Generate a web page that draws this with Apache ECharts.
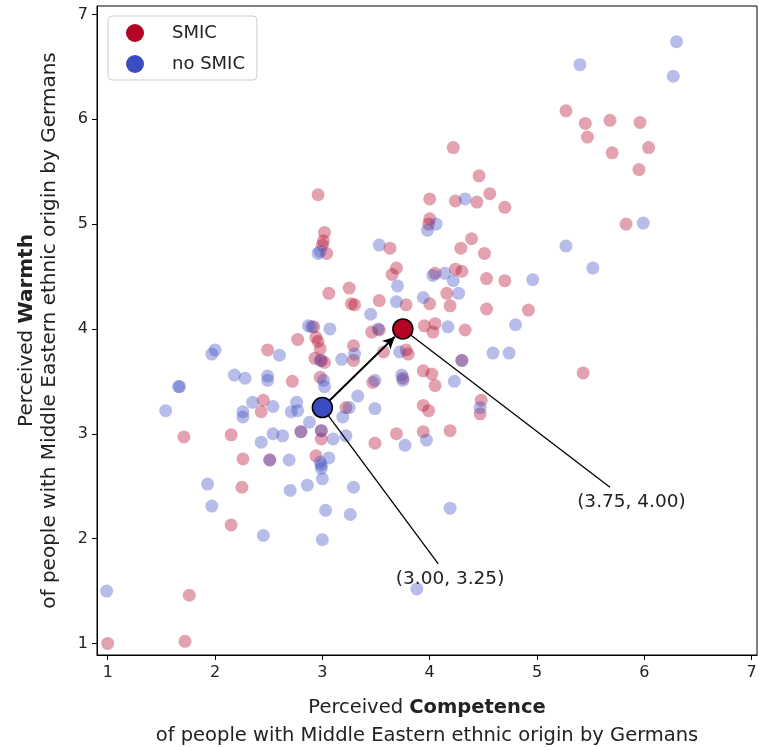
<html>
<head>
    <meta charset="utf-8" />
    <script src="https://cdn.jsdelivr.net/npm/echarts/dist/echarts.min.js"></script>
</head>
<body style="margin:0">
    <div id="main" style="width:759px;height:747px;"></div>
    <script>
        // competence (x), warmth (y)
        var smic = [
            [1.00,1.00],[1.72,1.02],[1.76,1.46],[1.71,2.97],[2.15,2.99],[2.15,2.13],[2.25,2.49],[2.26,2.76],
            [2.51,2.75],[2.45,3.32],[2.43,3.21],[2.49,3.80],[2.72,3.50],[2.77,3.90],[2.96,5.28],[3.02,4.92],
            [3.01,4.84],[3.00,4.80],[3.04,4.72],[3.06,4.34],[2.92,4.02],[2.94,3.92],[2.96,3.88],[2.98,3.81],
            [2.93,3.72],[3.02,3.68],[2.98,3.54],[2.80,3.02],[2.99,3.03],[2.99,2.95],[2.94,2.79],[3.25,4.39],
            [3.27,4.24],[3.30,4.23],[3.29,3.84],[3.29,3.70],[3.22,3.25],[3.46,3.97],[3.53,3.99],[3.53,4.27],
            [3.57,3.78],[3.47,3.49],[3.49,2.91],[3.63,4.77],[3.69,4.58],[3.65,4.52],[3.78,4.23],[3.78,3.80],
            [3.80,3.76],[3.75,3.53],[3.69,3.00],[3.94,3.60],[4.02,3.57],[4.05,3.46],[3.94,3.27],[3.99,3.22],
            [3.94,3.02],[4.19,3.03],[4.00,5.24],[4.00,5.05],[3.99,5.00],[4.22,5.73],[4.24,5.22],[4.44,5.21],
            [4.46,5.46],[4.56,5.29],[4.70,5.16],[4.39,4.86],[4.29,4.77],[4.51,4.72],[4.05,4.53],[4.24,4.57],
            [4.30,4.55],[4.53,4.48],[4.70,4.46],[4.16,4.34],[4.19,4.22],[4.00,4.24],[4.53,4.19],[3.95,4.03],
            [4.05,4.05],[4.03,3.97],[4.33,3.99],[4.30,3.70],[4.48,3.32],[4.47,3.19],[4.92,4.18],[5.27,6.08],
            [5.45,5.96],[5.68,5.99],[5.96,5.97],[5.47,5.83],[6.04,5.73],[5.70,5.68],[5.95,5.52],[5.83,5.00],
            [5.43,3.58],[2.99,3.70]
        ];
        var noSmic = [
            [0.99,1.50],[1.54,3.22],[1.66,3.45],[1.67,3.45],[1.93,2.52],[1.97,2.31],[1.97,3.76],[2.00,3.80],
            [2.18,3.56],[2.28,3.53],[2.35,3.30],[2.26,3.21],[2.26,3.16],[2.43,2.92],[2.45,2.03],[2.49,3.55],
            [2.49,3.51],[2.51,2.75],[2.54,3.26],[2.54,3.00],[2.60,3.75],[2.63,2.98],[2.69,2.75],[2.70,2.46],
            [2.71,3.21],[2.76,3.30],[2.77,3.22],[2.80,3.02],[2.86,2.51],[2.87,4.03],[2.90,4.02],[2.88,3.11],
            [2.96,4.72],[2.98,4.74],[2.98,3.70],[3.01,3.51],[3.02,3.45],[2.98,2.73],[2.99,2.70],[2.99,2.67],
            [3.00,2.57],[3.00,1.99],[3.03,2.27],[3.06,2.77],[3.07,4.00],[3.10,2.95],[3.19,3.16],[3.18,3.71],
            [3.22,2.98],[3.25,3.25],[3.29,2.49],[3.26,2.23],[3.30,3.76],[3.33,3.36],[3.45,4.14],[3.49,3.51],
            [3.49,3.24],[3.52,4.00],[3.53,4.80],[3.69,4.26],[3.70,4.41],[3.72,3.78],[3.74,3.56],[3.75,3.51],
            [3.77,2.89],[3.88,1.52],[3.94,4.30],[3.97,2.94],[3.98,4.94],[4.06,5.00],[4.03,4.51],[4.14,4.53],
            [4.22,4.46],[4.27,4.34],[4.17,4.02],[4.23,3.50],[4.30,3.70],[4.33,5.24],[4.19,2.29],[4.47,3.25],
            [4.59,3.77],[4.74,3.77],[4.80,4.04],[4.96,4.47],[5.27,4.79],[5.52,4.58],[5.40,6.52],[6.30,6.74],
            [6.27,6.41],[5.99,5.01],[2.99,3.03]
        ];
        var meanSmic = [3.75, 4.00];
        var meanNoSmic = [3.00, 3.25];
        var ticks = [1, 2, 3, 4, 5, 6, 7];
        // where the annotation texts sit (data units)
        var textSmic = [5.88, 2.35], lineSmic = [5.68, 2.49];
        var textNoSmic = [4.19, 1.61], lineNoSmic = [4.08, 1.76];

        var red = '#b40426', blue = '#3b4cc0';
        var font = 'DejaVu Sans';

        function fmt(m) { return '(' + m[0].toFixed(2) + ', ' + m[1].toFixed(2) + ')'; }
        // stop the arrow at the edge of the red marker
        var tip = [meanNoSmic[0] + 0.9 * (meanSmic[0] - meanNoSmic[0]),
                   meanNoSmic[1] + 0.9 * (meanSmic[1] - meanNoSmic[1])];

        var axisName = function (word) {
            return '{n|Perceived }{b|' + word + '}\n{n|of people with Middle Eastern ethnic origin by Germans}';
        };
        function nameRich(size, lh) {
            return {
                n: { fontFamily: font, fontSize: size, color: '#222', lineHeight: lh },
                b: { fontFamily: font, fontSize: size, color: '#222', fontWeight: 'bold', lineHeight: lh }
            };
        }

        var myChart = echarts.init(document.getElementById('main'));
        var option = {
            animation: false,
            grid: {
                left: 97, right: 2, top: 6, bottom: 92, outerBoundsMode: 'none',
                show: true, borderColor: '#000', borderWidth: 1
            },
            legend: {
                left: 108, top: 16, orient: 'vertical',
                padding: [8, 12, 7, 18], itemGap: 13, itemWidth: 18, itemHeight: 18,
                borderColor: '#ccc', borderWidth: 1, borderRadius: 4,
                textStyle: { fontFamily: font, fontSize: 18, color: '#222', padding: [0, 0, 0, 23] },
                data: [
                    { name: 'SMIC', icon: 'circle', itemStyle: { color: red, opacity: 1 } },
                    { name: 'no SMIC', icon: 'circle', itemStyle: { color: blue, opacity: 1 } }
                ]
            },
            xAxis: {
                type: 'value', min: 0.9, max: 7.05,
                name: axisName('Competence'), nameLocation: 'middle', nameGap: 39,
                nameTextStyle: { rich: nameRich(19.5, 28) },
                splitLine: { show: false },
                axisLine: { lineStyle: { color: '#000' } },
                axisTick: { customValues: ticks, length: 5, lineStyle: { color: '#000' } },
                axisLabel: { customValues: ticks, fontFamily: font, fontSize: 16, color: '#222', margin: 10 }
            },
            yAxis: {
                type: 'value', min: 0.89, max: 7.08,
                name: axisName('Warmth'), nameLocation: 'middle', nameGap: 36, nameRotate: 90,
                nameTextStyle: { rich: nameRich(20, 23) },
                splitLine: { show: false },
                axisLine: { show: true, lineStyle: { color: '#000' } },
                axisTick: { show: true, customValues: ticks, length: 5, lineStyle: { color: '#000' } },
                axisLabel: { customValues: ticks, fontFamily: font, fontSize: 16, color: '#222', margin: 9 }
            },
            series: [
                {
                    name: 'SMIC', type: 'scatter', symbolSize: 13, data: smic,
                    itemStyle: { color: red, opacity: 0.37 }
                },
                {
                    name: 'no SMIC', type: 'scatter', symbolSize: 13, data: noSmic,
                    itemStyle: { color: blue, opacity: 0.37 }
                },
                {
                    name: 'annot', type: 'scatter', data: [], z: 3,
                    markLine: {
                        silent: true, symbol: 'none', animation: false,
                        label: { show: false },
                        lineStyle: { color: '#000', width: 1.3, type: 'solid' },
                        data: [
                            [{ coord: lineSmic }, { coord: meanSmic }],
                            [{ coord: lineNoSmic }, { coord: meanNoSmic }],
                            [{ coord: meanNoSmic, symbol: 'none' },
                             { coord: tip, symbol: 'arrow', symbolSize: [9, 12], lineStyle: { width: 2 } }]
                        ]
                    },
                    markPoint: {
                        silent: true, symbol: 'circle', symbolSize: 0, animation: false,
                        label: { show: true, position: 'inside', fontFamily: font, fontSize: 18.5, color: '#222' },
                        data: [
                            { coord: textSmic, label: { formatter: fmt(meanSmic) } },
                            { coord: textNoSmic, label: { formatter: fmt(meanNoSmic) } }
                        ]
                    }
                },
                {
                    name: 'means', type: 'scatter', symbolSize: 20, z: 5,
                    itemStyle: { borderColor: '#000', borderWidth: 1.5, opacity: 1 },
                    data: [
                        { value: meanNoSmic, itemStyle: { color: blue } },
                        { value: meanSmic, itemStyle: { color: red } }
                    ]
                }
            ]
        };
        myChart.setOption(option);
    </script>
</body>
</html>
